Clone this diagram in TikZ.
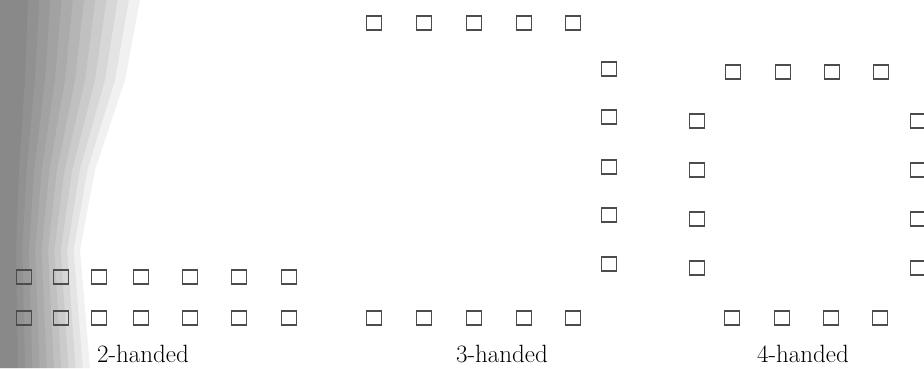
\documentclass[tikz,border=0pt]{standalone}
\usepackage{tikz}
\usetikzlibrary{positioning}

\begin{document}
\begin{tikzpicture}[x=1pt,y=-1pt,
  every node/.style={font=\fontsize{25}{30}\selectfont},
  sq/.style={draw=black!70,line width=1.6pt,minimum width=15pt,minimum height=14pt,inner sep=0pt},
  lbl/.style={anchor=base,inner sep=0pt}
]
  \useasboundingbox (0,0) rectangle (924,368);
  % scan shadow at the left edge
  \foreach \f in {1,0.92,0.84,0.76,0.68,0.6,0.52,0.44,0.36,0.28,0.2}
    \fill[black,opacity=0.055] (0,0) -- (140*\f,0) -- (125*\f,80) -- (95*\f,170)
      -- (80*\f,250) -- (90*\f,368) -- (0,368) -- cycle;

  % 2-handed
  \foreach \x [count=\i] in {24,61,99,141,190,239,289} {
    \node[sq] (two-a\i) at (\x,277) {};
    \node[sq] (two-b\i) at (\x,318) {};
  }
  \node[lbl] (two) at (143,362) {2-handed};

  % 3-handed
  \foreach \x [count=\i] in {374,424,474,524,573} {
    \node[sq] (three-t\i) at (\x,23) {};
    \node[sq] (three-b\i) at (\x,318) {};
  }
  \foreach \y [count=\i] in {69,117,167,215,264}
    \node[sq] (three-r\i) at (609,\y) {};
  \node[lbl] (three) at (502,362) {3-handed};

  % 4-handed
  \foreach \x [count=\i] in {733,783,832,881} {
    \node[sq] (four-t\i) at (\x,72) {};
    \node[sq] (four-b\i) at (\x-1,318) {};
  }
  \foreach \y [count=\i] in {121,170,219,268} {
    \node[sq] (four-l\i) at (697,\y) {};
    \node[sq] (four-r\i) at (918,\y) {};
  }
  \node[lbl] (four) at (803,362) {4-handed};
\end{tikzpicture}
\end{document}
